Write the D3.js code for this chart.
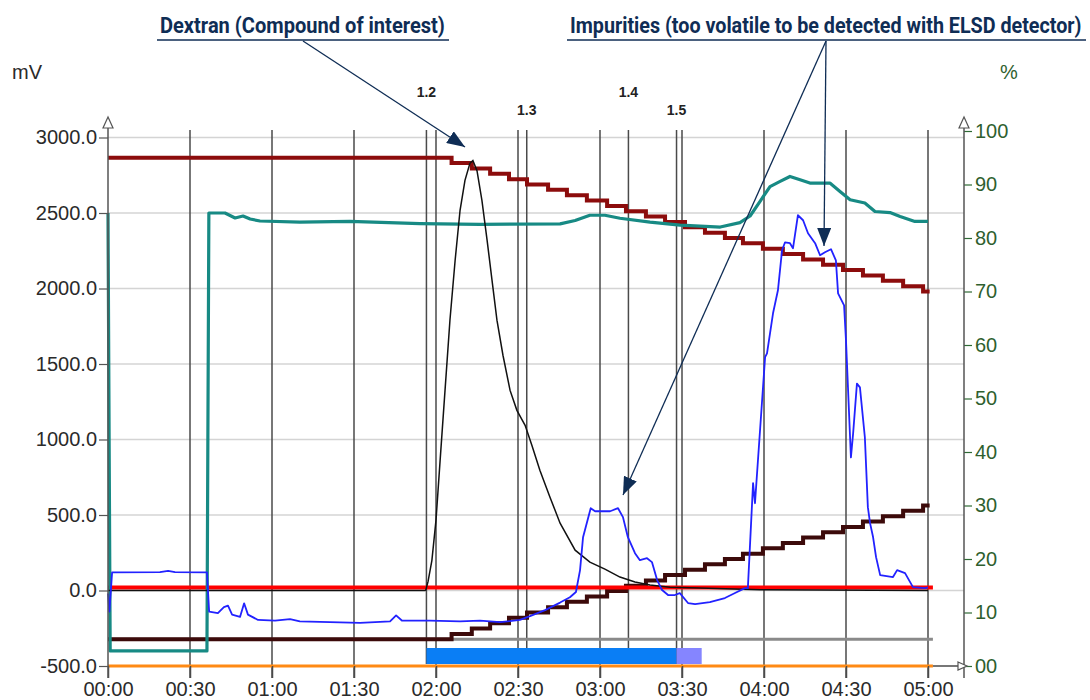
<!DOCTYPE html>
<html>
<head>
<meta charset="utf-8">
<script src="https://d3js.org/d3.v7.min.js"></script>
<style>
  body { margin: 0; background: #fff; }
  .tick text { font-family: "Liberation Sans", Arial, sans-serif; }
</style>
</head>
<body>
<div class="chart"></div>
<script>
// minutes vs mV (left axis) and % (right axis)
const gridMinutes = [0, 30, 60, 90, 120, 150, 180, 210, 240, 270, 300];
const mvTicks = [-500, 0, 500, 1000, 1500, 2000, 2500, 3000];
const pctTicks = [0, 10, 20, 30, 40, 50, 60, 70, 80, 90, 100];

// ELSD trace (black)
const elsdTime = [0, 116, 116.3, 117.1, 118.5, 120, 121.5, 123.3, 125.1, 127, 128.8, 130.6, 132.4, 133.5, 135, 136.8, 138.7, 140.5, 142.3, 144.5, 147.1, 149.6, 152.6, 155.1, 158, 161.7, 165.4, 170.9, 176.3, 181.8, 187.3, 192.8, 198.3, 205.6, 216.6, 238.5, 300];
const elsdMv = [0, 0, 5, 60, 200, 466, 860, 1325, 1790, 2187, 2518, 2716, 2829, 2848, 2780, 2584, 2319, 2054, 1790, 1558, 1325, 1193, 1094, 961, 797, 618, 446, 267, 188, 142, 89, 56, 36, 22, 16, 5, 0];

// UV trace (blue)
const uvTime = [0, 0.5, 1.5, 19, 22, 24.5, 36.2, 37, 40.2, 42.4, 43.9, 45.4, 48.3, 49.8, 51.2, 54.9, 61.1, 66.6, 70.2, 81.2, 92.2, 103.2, 105.4, 107.6, 117.8, 128.8, 136.1, 143.4, 150.7, 154.4, 159.9, 165.4, 169, 171.2, 172.7, 173.8, 176.6, 178.2, 183.7, 186.6, 188.4, 190.2, 192.8, 194.6, 197.2, 199, 200.9, 202.7, 204.9, 207.4, 209.2, 212.2, 214.8, 220.2, 225.7, 229.4, 233, 234.1, 236, 236.7, 240.4, 241.1, 243.3, 245.1, 246.6, 247.7, 249.5, 250.6, 252.4, 254.3, 256.1, 258.7, 260.5, 262.3, 264.5, 266.3, 267.1, 269.3, 270, 271.8, 272.6, 274, 275.1, 276.9, 278, 278.8, 279.9, 281, 282.5, 287.2, 288.7, 291.6, 294.5, 298.9, 300];
const uvMv = [-20, -140, 120, 122, 130, 122, 120, -140, -150, -110, -100, -160, -175, -85, -160, -195, -200, -190, -205, -210, -215, -205, -165, -200, -200, -205, -200, -210, -195, -170, -130, -80, -45, -10, 135, 353, 545, 525, 525, 545, 486, 353, 247, 201, 214, 188, 69, 3, -30, -30, -17, -83, -90, -77, -50, -17, 16, 16, 711, 578, 1545, 1571, 1836, 1988, 2253, 2306, 2300, 2266, 2485, 2452, 2366, 2300, 2220, 2240, 2260, 2187, 1968, 1888, 1655, 881, 1039, 1370, 1345, 1015, 552, 446, 354, 221, 102, 89, 135, 115, 22, 16, 20];

// third channel (teal)
const tealTime = [0, 0.8, 36.2, 36.9, 42.8, 46.5, 49.4, 52, 55.6, 70.2, 88.5, 114.1, 136.1, 165.4, 170.9, 176.3, 181.8, 187.3, 198.3, 209.3, 216.6, 224, 231.2, 234.9, 238.5, 242.2, 245.9, 249.5, 253.2, 256.8, 264.1, 267.8, 271.5, 276.9, 280.6, 286.1, 289.8, 295.2, 300];
const tealMv = [2500, -400, -400, 2500, 2500, 2467, 2480, 2460, 2447, 2440, 2445, 2430, 2425, 2428, 2450, 2485, 2485, 2465, 2440, 2420, 2413, 2407, 2436, 2480, 2576, 2675, 2709, 2742, 2720, 2698, 2698, 2643, 2588, 2566, 2510, 2503, 2477, 2444, 2444];

// solvent gradient (%)
const gradTime = [0, 125.7, 133.1, 139.8, 146.7, 153.3, 161.0, 167.9, 175.2, 182.6, 189.5, 196.8, 203.8, 211.1, 218.4, 225.7, 232.3, 239.6, 246.9, 254.3, 261.6, 268.9, 276.2, 283.5, 290.9, 298.2, 300.6];
const solventA = [95, 94, 93, 92, 91, 90, 89, 88, 87, 86, 85, 84, 83, 82, 81, 80, 79, 78, 77, 76, 75, 74, 73, 72, 71, 70, 70];
const solventB = [5, 6, 7, 8, 9, 10, 11, 12, 13, 14, 15, 16, 17, 18, 19, 20, 21, 22, 23, 24, 25, 26, 27, 28, 29, 30, 30];

// flat channels
const lineEnd = 301.8;
const redLevelMv = 20;
const grayLevelPct = 5;

// fractions
const fracLabels = ["1.2", "1.3", "1.4", "1.5"];
const fracStart = [116.5, 153.2, 190.4, 208.0];
const fracEnd = 217.2;

const svgWidth = 1090, svgHeight = 700;

const svg = d3.select(".chart").append("svg")
    .attr("width", svgWidth)
    .attr("height", svgHeight)
    .style("font-family", "'Liberation Sans', Arial, sans-serif");

const x = d3.scaleLinear().domain([0, 300]).range([108, 928]);
const yL = d3.scaleLinear().domain([-500, 3000]).range([666, 137.5]);
const yR = d3.scaleLinear().domain([0, 100]).range([666, 131]);

const fmtTime = m => String(Math.floor(m / 60)).padStart(2, "0") + ":" + String(m % 60).padStart(2, "0");

// horizontal grid
svg.append("g").selectAll("line")
    .data(mvTicks)
    .join("line")
    .attr("x1", 108).attr("x2", 964)
    .attr("y1", d => yL(d)).attr("y2", d => yL(d))
    .attr("stroke", "#d4d4d4").attr("stroke-width", 1.5);

// vertical grid
svg.append("g").selectAll("line")
    .data(gridMinutes.slice(1))
    .join("line")
    .attr("x1", d => x(d)).attr("x2", d => x(d))
    .attr("y1", 130).attr("y2", 678)
    .attr("stroke", "#4a4a4a").attr("stroke-width", 1.5);

// fraction lines
svg.append("g").selectAll("line")
    .data(fracStart)
    .join("line")
    .attr("x1", d => x(d)).attr("x2", d => x(d))
    .attr("y1", 130).attr("y2", 664)
    .attr("stroke", "#4a4a4a").attr("stroke-width", 1.5);

svg.append("g").selectAll("text")
    .data(fracLabels)
    .join("text")
    .attr("x", (d, i) => x(fracStart[i]))
    .attr("y", (d, i) => i % 2 === 0 ? 97 : 115)
    .attr("text-anchor", "middle")
    .attr("font-size", 14)
    .attr("font-weight", "bold")
    .attr("fill", "#222")
    .text(d => d);

// fraction bar
svg.append("rect")
    .attr("x", x(fracStart[0])).attr("y", 648)
    .attr("width", x(fracStart[3]) - x(fracStart[0])).attr("height", 16)
    .attr("fill", "#0a7ef5");
svg.append("rect")
    .attr("x", x(fracStart[3])).attr("y", 648)
    .attr("width", x(fracEnd) - x(fracStart[3])).attr("height", 16)
    .attr("fill", "#8585ff");

// flat channels
svg.append("line")
    .attr("x1", x(0)).attr("x2", x(lineEnd))
    .attr("y1", yR(grayLevelPct)).attr("y2", yR(grayLevelPct))
    .attr("stroke", "#8a8a8a").attr("stroke-width", 3);
svg.append("line")
    .attr("x1", x(0)).attr("x2", x(lineEnd))
    .attr("y1", yL(-500)).attr("y2", yL(-500))
    .attr("stroke", "#ff8a14").attr("stroke-width", 3);

// gradient steps
const stepLine = d3.line().curve(d3.curveStepAfter);
svg.append("path")
    .attr("d", stepLine(gradTime.map((t, i) => [x(t), yR(solventA[i])])))
    .attr("fill", "none").attr("stroke", "#8c0c0c").attr("stroke-width", 4);
svg.append("path")
    .attr("d", stepLine(gradTime.map((t, i) => [x(t), yR(solventB[i])])))
    .attr("fill", "none").attr("stroke", "#3c0a0a").attr("stroke-width", 4);

// red channel
svg.append("line")
    .attr("x1", x(0)).attr("x2", x(lineEnd))
    .attr("y1", yL(redLevelMv)).attr("y2", yL(redLevelMv))
    .attr("stroke", "#ff0000").attr("stroke-width", 4);

const trace = d3.line();
svg.append("path")
    .attr("d", trace(tealTime.map((t, i) => [x(t), yL(tealMv[i])])))
    .attr("fill", "none").attr("stroke", "#178a84").attr("stroke-width", 3.2)
    .attr("stroke-linejoin", "round");
svg.append("path")
    .attr("d", trace(elsdTime.map((t, i) => [x(t), yL(elsdMv[i])])))
    .attr("fill", "none").attr("stroke", "#111").attr("stroke-width", 1.5);
svg.append("path")
    .attr("d", trace(uvTime.map((t, i) => [x(t), yL(uvMv[i])])))
    .attr("fill", "none").attr("stroke", "#2222ff").attr("stroke-width", 1.8)
    .attr("stroke-linejoin", "round");

// axes
const leftAxis = d3.axisLeft(yL).tickValues(mvTicks).tickFormat(d => d.toFixed(1)).tickSize(9).tickPadding(2);
const gl = svg.append("g").attr("transform", "translate(108,0)").call(leftAxis);
gl.select(".domain").remove();
gl.selectAll("line").attr("stroke", "#555").attr("stroke-width", 1.2);
gl.selectAll("text").attr("font-size", 20).attr("fill", "#2a2a2a");

const rightAxis = d3.axisRight(yR).tickValues(pctTicks).tickFormat(d => d === 0 ? "00" : d).tickSize(8).tickPadding(3);
const gr = svg.append("g").attr("transform", "translate(964,0)").call(rightAxis);
gr.select(".domain").remove();
gr.selectAll("line").attr("stroke", "#2f6b35").attr("stroke-width", 1.2);
gr.selectAll("text").attr("font-size", 20).attr("fill", "#2f5f2f");

const bottomAxis = d3.axisBottom(x).tickValues(gridMinutes).tickFormat(fmtTime).tickSize(12).tickPadding(4);
const gb = svg.append("g").attr("transform", "translate(0,666)").call(bottomAxis);
gb.select(".domain").remove();
gb.selectAll("line").attr("stroke", "#4a4a4a").attr("stroke-width", 1.5);
gb.selectAll("text").attr("font-size", 20).attr("fill", "#2a2a2a");

// axis lines with arrows
svg.append("line").attr("x1", 108).attr("x2", 108).attr("y1", 128).attr("y2", 678)
    .attr("stroke", "#555").attr("stroke-width", 1.5);
svg.append("line").attr("x1", 964).attr("x2", 964).attr("y1", 128).attr("y2", 678)
    .attr("stroke", "#555").attr("stroke-width", 1.5);
svg.append("line").attr("x1", x(lineEnd)).attr("x2", 960).attr("y1", 666).attr("y2", 666)
    .attr("stroke", "#555").attr("stroke-width", 1.5);
[108, 964].forEach(ax => {
  svg.append("path")
      .attr("d", `M${ax},117 L${ax - 5},128 L${ax + 5},128 Z`)
      .attr("fill", "#fff").attr("stroke", "#555").attr("stroke-width", 1.2);
});
svg.append("path")
    .attr("d", "M958,662 L967,666 L958,670 Z")
    .attr("fill", "#fff").attr("stroke", "#555").attr("stroke-width", 1.2);

// unit labels
svg.append("text").attr("x", 12).attr("y", 79).attr("font-size", 20).attr("fill", "#2a2a2a").text("mV");
svg.append("text").attr("x", 1000).attr("y", 79).attr("font-size", 20).attr("fill", "#2f5f2f").text("%");

// annotations
const navy = "#0f2d55";
svg.append("defs").append("marker")
    .attr("id", "head")
    .attr("markerUnits", "userSpaceOnUse")
    .attr("markerWidth", 20).attr("markerHeight", 14)
    .attr("refX", 18).attr("refY", 7)
    .attr("orient", "auto")
    .append("path")
    .attr("d", "M0,0 L18,7 L0,14 Z")
    .attr("fill", navy);

const notes = [
  {text: "Dextran (Compound of interest)", x0: 160, x1: 445},
  {text: "Impurities (too volatile to be detected with ELSD detector)", x0: 570, x1: 1082}
];
notes.forEach(n => {
  // squeeze the text horizontally so it looks condensed
  const t = svg.append("text")
      .attr("x", 0).attr("y", 0)
      .attr("font-family", "Roboto, sans-serif")
      .attr("font-weight", "bold")
      .attr("font-size", 22)
      .attr("fill", navy)
      .text(n.text);
  const w = t.node().getComputedTextLength();
  t.attr("transform", `translate(${n.x0},33) scale(${(n.x1 - n.x0) / w},1)`);
  svg.append("line")
      .attr("x1", n.x0 - 3).attr("x2", n.x1 + 4)
      .attr("y1", 40).attr("y2", 40)
      .attr("stroke", navy).attr("stroke-width", 1.5);
});

const arrows = [
  [303, 41, 465, 147],
  [826, 41, 623, 495],
  [826, 41, 824, 246]
];
arrows.forEach(a => {
  svg.append("line")
      .attr("x1", a[0]).attr("y1", a[1]).attr("x2", a[2]).attr("y2", a[3])
      .attr("stroke", navy).attr("stroke-width", 1.3)
      .attr("marker-end", "url(#head)");
});
</script>
</body>
</html>
